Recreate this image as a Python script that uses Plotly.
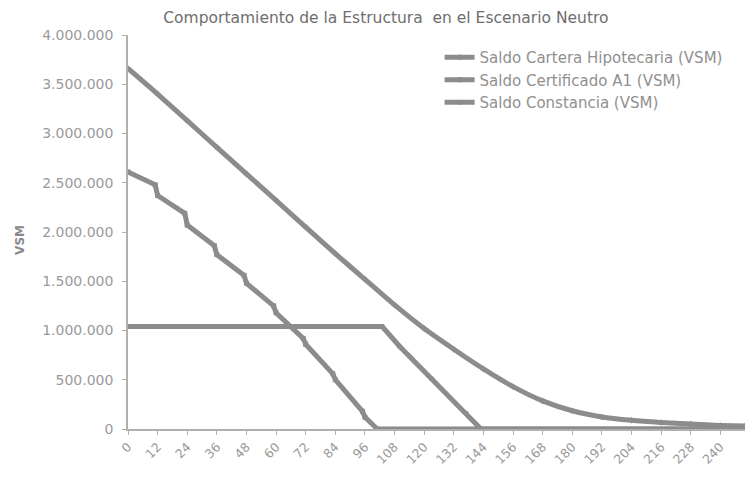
import plotly.graph_objects as go

# ---- data (values in VSM) ----
cartera_mes = [0, 12, 24, 36, 48, 60, 72, 84, 96, 108, 120, 132, 144, 156, 168, 180, 192, 204, 216, 228, 240, 250]
cartera_val = [3660000, 3400000, 3130000, 2860000, 2590000, 2320000, 2050000, 1780000, 1520000, 1260000,
               1020000, 810000, 610000, 430000, 285000, 185000, 122000, 88000, 66000, 50000, 36000, 30000]

cert_mes = [0, 11, 12, 23, 24, 35, 36, 47, 48, 59, 60, 71, 72, 83, 84, 95, 96, 101, 250]
cert_val = [2610000, 2480000, 2370000, 2190000, 2070000, 1860000, 1770000, 1560000, 1480000, 1250000,
            1180000, 920000, 860000, 560000, 500000, 180000, 120000, 0, 0]

const_mes = [0, 103, 110, 123, 137, 143, 250]
const_val = [1040000, 1040000, 840000, 510000, 160000, 0, 0]

x_ticks = list(range(0, 241, 12))
y_ticks = [0, 500000, 1000000, 1500000, 2000000, 2500000, 3000000, 3500000, 4000000]

title_text = "Comportamiento de la Estructura  en el Escenario Neutro"
y_title = "VSM"
names = ["Saldo Cartera Hipotecaria (VSM)", "Saldo Certificado A1 (VSM)", "Saldo Constancia (VSM)"]

line_color = "#8c8c8c"
font_fam = "DejaVu Sans"

fig = go.Figure()
fig.add_trace(go.Scatter(x=cartera_mes, y=cartera_val, name=names[0], mode="lines+markers",
                         line=dict(color=line_color, width=5, shape="spline", smoothing=0.6),
                         marker=dict(color=line_color, size=5, symbol="diamond")))
fig.add_trace(go.Scatter(x=cert_mes, y=cert_val, name=names[1], mode="lines+markers",
                         line=dict(color=line_color, width=5),
                         marker=dict(color=line_color, size=5, symbol="square")))
fig.add_trace(go.Scatter(x=const_mes, y=const_val, name=names[2], mode="lines+markers",
                         line=dict(color=line_color, width=5),
                         marker=dict(color=line_color, size=5, symbol="circle")))

fig.update_layout(
    width=745, height=487,
    margin=dict(l=128, r=0, t=35, b=58),
    paper_bgcolor="white", plot_bgcolor="white",
    separators=",.",
    font=dict(family=font_fam, color="#999999", size=12),
    title=dict(text=title_text, x=0.518, xanchor="center", y=0.963, yanchor="middle",
               font=dict(family=font_fam, size=15.5, color="#6e6e6e")),
    showlegend=True,
    legend=dict(x=0.505, y=0.985, xanchor="left", yanchor="top", bgcolor="rgba(0,0,0,0)",
                font=dict(family=font_fam, size=15, color="#909090"), tracegroupgap=0),
    xaxis=dict(range=[0, 250], tickmode="array", tickvals=x_ticks, ticktext=[str(v) for v in x_ticks],
               tickangle=-45, showgrid=False, zeroline=False, showline=True, linecolor="#b0b0b0",
               linewidth=1.5, ticks="outside", ticklen=4, tickcolor="#b0b0b0", automargin=False,
               tickfont=dict(family=font_fam, size=12.5, color="#9a9a9a")),
    yaxis=dict(range=[0, 4000000], tickmode="array", tickvals=y_ticks, tickformat=",d",
               showgrid=False, zeroline=False, showline=True, linecolor="#b0b0b0", linewidth=1.5,
               ticks="outside", ticklen=4, tickcolor="#b0b0b0", automargin=False,
               ticklabelstandoff=6,
               tickfont=dict(family=font_fam, size=14, color="#9a9a9a")),
    annotations=[dict(text="<b>" + y_title + "</b>", xref="paper", yref="paper",
                      x=(20 - 128) / 617, y=0.48, xanchor="center", yanchor="middle", textangle=-90,
                      showarrow=False, font=dict(family=font_fam, size=12, color="#8a8a8a"))],
)

fig.write_html("out.html", config={"displayModeBar": False},
               post_script="document.body.style.margin='0';document.body.style.overflow='hidden';")
